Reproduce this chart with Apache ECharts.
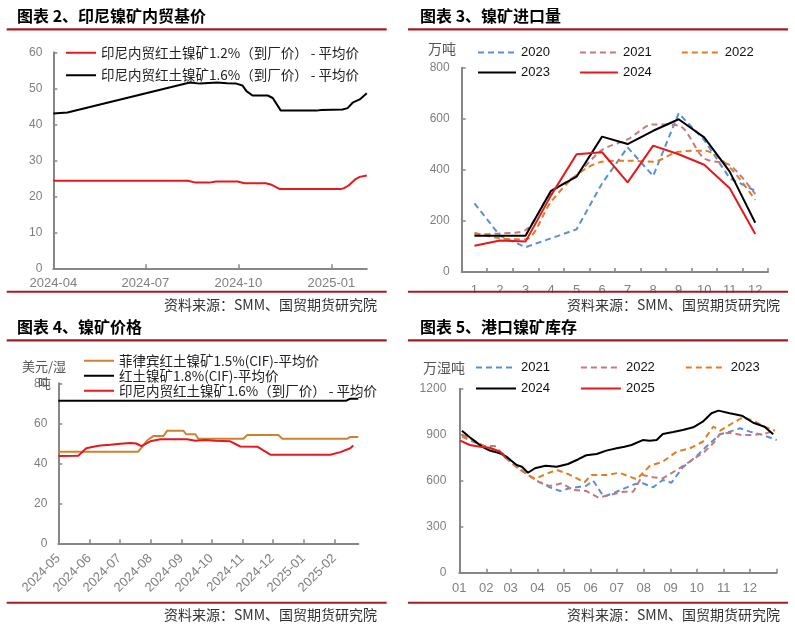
<!DOCTYPE html>
<html><head><meta charset="utf-8">
<script src="https://cdn.jsdelivr.net/npm/echarts@6/dist/echarts.min.js"></script>
<style>html,body{margin:0;padding:0;background:#fff}#c{width:795px;height:626px}</style>
</head><body><div id="c"></div>
<script>
// ===== 图表2 印尼镍矿内贸基价 =====
const c2Names = ['印尼内贸红土镍矿1.2%（到厂价） - 平均价', '印尼内贸红土镍矿1.6%（到厂价） - 平均价'];
const c2TickLabels = ['2024-04', '2024-07', '2024-10', '2025-01'];
const c2Range = ['2024-04-01', '2025-02-05'];
const c2Red = [['2024-04-01',24.3],['2024-08-12',24.3],['2024-08-20',23.8],['2024-09-02',23.8],['2024-09-09',24.1],['2024-09-30',24.1],['2024-10-07',23.6],['2024-10-28',23.6],['2024-11-02',23.3],['2024-11-11',22.0],['2025-01-10',22.0],['2025-01-13',22.2],['2025-01-18',23.0],['2025-01-25',24.8],['2025-01-29',25.4],['2025-02-05',25.8]];
const c2Black = [['2024-04-01',43.0],['2024-04-15',43.3],['2024-08-14',51.6],['2024-08-24',51.3],['2024-09-10',51.6],['2024-09-20',51.4],['2024-09-29',51.3],['2024-10-05',50.8],['2024-10-09',49.2],['2024-10-15',48.0],['2024-10-30',48.0],['2024-11-04',47.3],['2024-11-12',43.8],['2024-12-17',43.8],['2024-12-22',44.0],['2025-01-12',44.1],['2025-01-17',44.5],['2025-01-22',46.0],['2025-01-29',46.9],['2025-02-05',48.6]];

// ===== 图表3 镍矿进口量 =====
const c3Months = ['1','2','3','4','5','6','7','8','9','10','11','12'];
const c3Years = ['2020','2021','2022','2023','2024'];
const imp2020 = [269,142,97,132,167,347,488,376,621,517,367,318];
const imp2021 = [146,151,164,310,380,478,519,578,573,445,419,305];
const imp2022 = [154,132,128,275,380,432,436,432,471,475,410,282];
const imp2023 = [142,142,142,318,373,530,501,553,598,527,393,193];
const imp2024 = [103,123,119,300,461,469,351,495,461,420,328,149];

// ===== 图表4 镍矿价格 =====
const c4Names = ['菲律宾红土镍矿1.5%(CIF)-平均价', '红土镍矿1.8%(CIF)-平均价', '印尼内贸红土镍矿1.6%（到厂价） - 平均价 '];
const c4TickLabels = ['2024-05','2024-06','2024-07','2024-08','2024-09','2024-10','2024-11','2024-12','2025-01','2025-02'];
const c4Range = ['2024-05-01', '2025-02-25'];
const c4Phil = [['2024-05-01',45.8],['2024-07-20',45.8],['2024-07-25',49.0],['2024-07-29',51.5],['2024-08-04',53.6],['2024-08-14',53.6],['2024-08-18',56.3],['2024-09-03',56.3],['2024-09-06',54.5],['2024-09-15',54.5],['2024-09-18',52.3],['2024-11-02',52.3],['2024-11-06',54.2],['2024-12-07',54.2],['2024-12-11',52.3],['2025-02-14',52.3],['2025-02-17',53.2],['2025-02-25',53.2]];
const c4Cif = [['2024-05-01',71.3],['2025-02-13',71.3],['2025-02-17',72.3],['2025-02-25',72.3]];
const c4Indo = [['2024-05-01',43.6],['2024-05-21',43.8],['2024-05-29',47.5],['2024-06-05',48.3],['2024-06-12',48.9],['2024-06-22',49.3],['2024-07-02',49.8],['2024-07-12',50.1],['2024-07-18',49.9],['2024-07-23',48.6],['2024-08-01',51.0],['2024-08-11',52.0],['2024-09-07',52.0],['2024-09-15',51.3],['2024-09-25',51.6],['2024-10-05',51.3],['2024-10-20',51.0],['2024-10-30',48.4],['2024-11-16',48.3],['2024-11-29',44.3],['2025-01-28',44.3],['2025-02-07',45.6],['2025-02-17',47.5],['2025-02-20',48.9]];

// ===== 图表5 港口镍矿库存 (x = 年内天数) =====
const c5MonthLabels = ['01','02','03','04','05','06','07','08','09','10','11','12'];
const c5MonthStartDays = [0,31,59,90,120,151,181,212,243,273,304,334];
const c5YearEnd = 365;
const c5Years = ['2021 ','2022 ','2023 ','2024 ','2025 '];
const inv2021 = [[3,900],[16,865],[39,789],[53,768],[66,691],[79,637],[91,594],[104,557],[116,533],[127,550],[139,561],[146,567],[154,600],[166,496],[177,518],[190,550],[202,578],[211,583],[223,557],[234,605],[244,587],[257,687],[273,761],[286,833],[300,903],[311,920],[323,942],[334,920],[349,898],[365,865]];
const inv2022 = [[3,887],[16,854],[28,826],[41,826],[47,789],[56,735],[66,687],[79,637],[91,594],[104,565],[118,583],[131,540],[146,533],[160,489],[173,507],[189,528],[200,528],[211,637],[223,622],[234,615],[250,670],[265,724],[282,789],[292,844],[300,905],[311,913],[325,898],[338,898],[353,909],[363,931]];
const inv2023 = [[3,898],[16,865],[26,833],[39,800],[51,774],[62,709],[77,648],[87,611],[100,644],[112,670],[125,644],[144,590],[152,637],[169,637],[184,652],[204,609],[219,696],[234,724],[250,789],[265,811],[280,854],[292,952],[300,926],[315,978],[326,1013],[338,991],[351,952],[363,926]];
const inv2024 = [[3,926],[12,883],[26,822],[35,796],[47,779],[53,761],[66,702],[72,691],[79,652],[87,681],[99,698],[112,691],[125,709],[137,740],[146,766],[158,774],[169,796],[181,811],[190,822],[198,833],[211,865],[219,861],[227,865],[234,905],[246,918],[257,931],[269,948],[280,985],[290,1040],[298,1057],[311,1040],[325,1024],[338,978],[351,952],[361,903]];
const inv2025 = [[1,861],[12,833],[24,822],[35,815],[47,789],[54,746]];

// ===== styles =====
const CJK = '"Noto Sans CJK SC", "Noto Sans", sans-serif';
const NUM = '"Liberation Sans", Arial, sans-serif';
const AX = '#878787';
const LBL = '#7f7f7f';
const RULE = '#a51d24';
const RED = '#e3191e', BLACK = '#000000', BLUE = '#5b8fd4', PINK = '#c4797c', ORANGE = '#e07e26', BROWN = '#d0812f';

const chart = echarts.init(document.getElementById('c'), null, {renderer: 'canvas'});

const ts = s => new Date(s + 'T00:00:00').getTime();
const toTs = arr => arr.map(p => [ts(p[0]), p[1]]);
function ym(v) { const d = new Date(v); return d.getFullYear() + '-' + String(d.getMonth() + 1).padStart(2, '0'); }
function axLine() { return {show: true, lineStyle: {color: AX, width: 2}}; }
function yAx(grid, max, interval, margin) {
  return {type: 'value', gridIndex: grid, min: 0, max: max, interval: interval,
    axisLine: axLine(), axisTick: {show: true, inside: true, length: 4, lineStyle: {color: AX, width: 1.5}},
    axisLabel: {color: LBL, fontSize: 12, fontFamily: NUM, margin: margin, formatter: v => String(v)},
    splitLine: {show: false}};
}
function line(name, data, color, xi, dashed, smooth) {
  return {name: name, type: 'line', xAxisIndex: xi, yAxisIndex: xi, data: data, symbol: 'none', showSymbol: false,
    smooth: smooth || false, color: color, animation: false,
    lineStyle: {color: color, width: 2, type: dashed ? [6, 4] : 'solid'}};
}
const trim = n => n.trim();
function legend(o) {
  return Object.assign({itemHeight: 14, formatter: trim, itemStyle: {opacity: 0}, selectedMode: false}, o);
}

const c2Ticks = c2TickLabels.map(s => ts(s + '-01'));
const c4Ticks = c4TickLabels.map(s => ts(s + '-01'));
const c5Ticks = c5MonthStartDays.concat([c5YearEnd]);

function txt(x, y, s, font, fill, align, z) {
  return {type: 'text', x: x, y: y, z: z || 10, style: {text: s, font: font, fill: fill, align: align || 'left', verticalAlign: 'middle'}};
}
function rect(x, y, w, h, fill, z) { return {type: 'rect', z: z || 10, shape: {x: x, y: y, width: w, height: h}, style: {fill: fill}}; }

const titleFont = 'bold 16px ' + CJK;
const srcFont = '14px ' + CJK;
const SRC = '资料来源：SMM、国贸期货研究院';
const cjkLegendText = {fontFamily: CJK, fontSize: 13.5, color: '#222'};
const numLegendText = {fontFamily: NUM, fontSize: 13, color: '#111'};

const option = {
  backgroundColor: '#ffffff',
  animation: false,
  grid: [
    {left: 53.3, top: 52.3, width: 313.5, height: 216},
    {left: 461.7, top: 67.7, width: 306.3, height: 204.3},
    {left: 58.3, top: 383.3, width: 300, height: 160},
    {left: 459.3, top: 388.7, width: 317.4, height: 184}
  ],
  xAxis: [
    {type: 'value', gridIndex: 0, min: ts(c2Range[0]), max: ts(c2Range[1]),
      axisLine: axLine(), splitLine: {show: false},
      axisTick: {show: true, inside: true, length: 4, customValues: c2Ticks, lineStyle: {color: AX, width: 1.5}},
      axisLabel: {customValues: c2Ticks, formatter: ym, color: LBL, fontSize: 13, fontFamily: NUM, margin: 9}},
    {type: 'category', gridIndex: 1, data: c3Months, boundaryGap: true,
      axisLine: axLine(), splitLine: {show: false},
      axisTick: {show: true, inside: true, length: 4, interval: 0, lineStyle: {color: AX, width: 1.5}},
      axisLabel: {color: LBL, fontSize: 13, fontFamily: NUM, margin: 12, interval: 0}},
    {type: 'value', gridIndex: 2, min: ts(c4Range[0]), max: ts(c4Range[1]),
      axisLine: axLine(), splitLine: {show: false},
      axisTick: {show: true, inside: true, length: 4, customValues: c4Ticks, lineStyle: {color: AX, width: 1.5}},
      axisLabel: {customValues: c4Ticks, formatter: ym, rotate: 45, color: LBL, fontSize: 13, fontFamily: NUM, margin: 13}},
    {type: 'value', gridIndex: 3, min: 0, max: c5YearEnd,
      axisLine: axLine(), splitLine: {show: false},
      axisTick: {show: true, inside: true, length: 4, customValues: c5Ticks, lineStyle: {color: AX, width: 1.5}},
      axisLabel: {customValues: c5MonthStartDays, formatter: v => c5MonthLabels[c5MonthStartDays.indexOf(v)] || '',
        color: LBL, fontSize: 13, fontFamily: NUM, margin: 9}}
  ],
  yAxis: [yAx(0, 60, 10, 11), yAx(1, 800, 200, 12), yAx(2, 80, 20, 11), yAx(3, 1200, 300, 13)],
  legend: [
    legend({left: 60, top: 41, orient: 'vertical', itemWidth: 30, itemGap: 9, data: c2Names, textStyle: cjkLegendText}),
    legend({left: 472, top: 41, itemWidth: 38, itemGap: 29, data: c3Years.slice(0, 3), textStyle: numLegendText}),
    legend({left: 472, top: 61, itemWidth: 38, itemGap: 29, data: c3Years.slice(3), textStyle: numLegendText}),
    legend({left: 78, top: 349, orient: 'vertical', itemWidth: 30, itemGap: 1.5, data: c4Names, textStyle: cjkLegendText}),
    legend({left: 470, top: 356, itemWidth: 40, itemGap: 30, data: c5Years.slice(0, 3), textStyle: numLegendText}),
    legend({left: 470, top: 377, itemWidth: 40, itemGap: 30, data: c5Years.slice(3), textStyle: numLegendText})
  ],
  series: [
    line(c2Names[0], toTs(c2Red), RED, 0),
    line(c2Names[1], toTs(c2Black), BLACK, 0),

    line(c3Years[0], imp2020, BLUE, 1, true),
    line(c3Years[1], imp2021, PINK, 1, true, 0.3),
    line(c3Years[2], imp2022, ORANGE, 1, true, 0.3),
    line(c3Years[3], imp2023, BLACK, 1),
    line(c3Years[4], imp2024, RED, 1),

    line(c4Names[0], toTs(c4Phil), BROWN, 2),
    line(c4Names[1], toTs(c4Cif), BLACK, 2),
    line(c4Names[2], toTs(c4Indo), RED, 2),

    line(c5Years[0], inv2021, BLUE, 3, true),
    line(c5Years[1], inv2022, PINK, 3, true),
    line(c5Years[2], inv2023, ORANGE, 3, true),
    line(c5Years[3], inv2024, BLACK, 3),
    line(c5Years[4], inv2025, RED, 3)
  ],
  graphic: [
    txt(17, 16, '图表 2、印尼镍矿内贸基价', titleFont, '#000'),
    rect(6.7, 28.3, 380, 2.2, RULE),
    rect(6.7, 290.8, 380, 2, RULE),
    txt(377, 305, SRC, srcFont, '#333', 'right'),

    txt(420, 16, '图表 3、镍矿进口量', titleFont, '#000'),
    rect(408, 28.3, 380, 2.2, RULE),
    rect(408, 293, 380, 6, '#ffffff', 50),
    rect(408, 290.8, 380, 2, RULE, 60),
    txt(780, 305, SRC, srcFont, '#333', 'right'),
    txt(428, 49, '万吨', '14px ' + CJK, '#555'),

    txt(17, 327, '图表 4、镍矿价格', titleFont, '#000'),
    rect(6.7, 339.2, 380, 2.2, RULE),
    rect(6.7, 601.8, 380, 2, RULE),
    txt(377, 615, SRC, srcFont, '#333', 'right'),
    txt(22, 366, '美元/湿', '13px ' + CJK, '#555'),
    txt(38, 383, '吨', '13px ' + CJK, '#555'),

    txt(420, 327, '图表 5、港口镍矿库存', titleFont, '#000'),
    rect(408, 339.2, 380, 2.2, RULE),
    rect(408, 601.8, 380, 2, RULE),
    txt(780, 615, SRC, srcFont, '#333', 'right'),
    txt(423, 368, '万湿吨', '14px ' + CJK, '#555')
  ]
};
chart.setOption(option);
</script>
</body></html>
